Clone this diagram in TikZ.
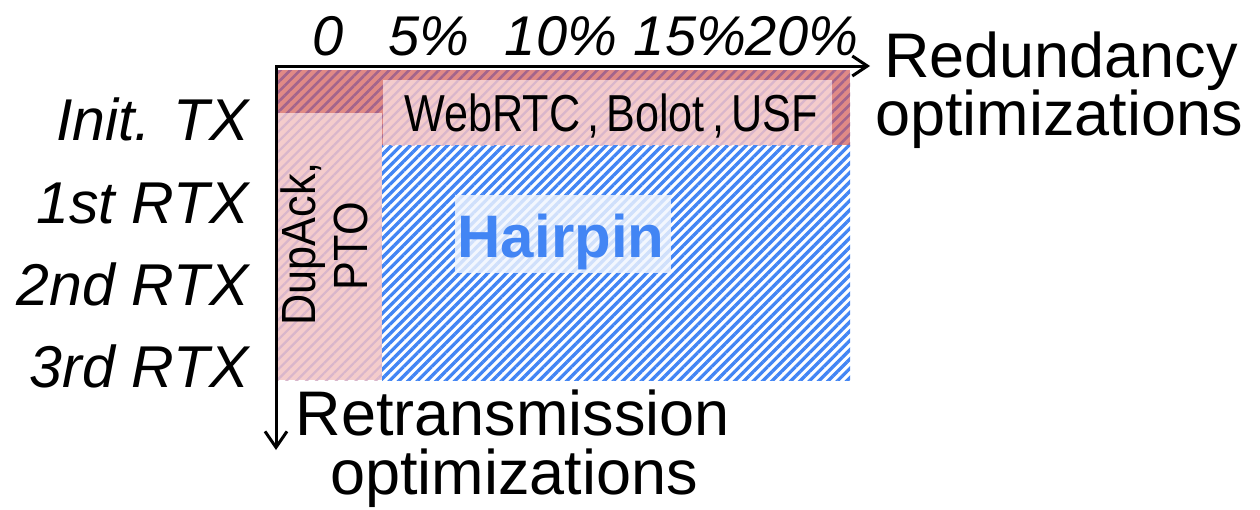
\documentclass[tikz,border=0pt]{standalone}
\usepackage{fontspec}
\setmainfont{Liberation Sans}
\newfontfamily\narrowsans[FakeStretch=0.83,WordSpace=0.6]{Liberation Sans}
\newfontfamily\dupsans[FakeStretch=0.9]{Liberation Sans}
\usetikzlibrary{patterns.meta,arrows.meta}
\definecolor{hpblue}{HTML}{4285F4}
\definecolor{darkband}{HTML}{E08A86}
\definecolor{darkhatch}{HTML}{A3648C}
\definecolor{pinkfill}{HTML}{F4CCCC}
\definecolor{pinkhatch}{HTML}{D9B6CB}
\tikzset{
  ticklab/.style={anchor=base, font=\fontsize{56}{56}\selectfont\itshape},
  rowlab/.style={anchor=base east, font=\fontsize{59}{59}\selectfont\itshape},
  biglab/.style={anchor=base, font=\fontsize{63}{63}\selectfont},
  axisline/.style={line width=3pt, {Straight Barb[length=16pt,width=22pt]}-{Straight Barb[length=15pt,width=20pt]}},
  bluehatch/.style={pattern={Lines[angle=45,distance=6.6pt,line width=3.3pt]}, pattern color=hpblue},
  darkhatchst/.style={pattern={Lines[angle=45,distance=7pt,line width=2.6pt]}, pattern color=darkhatch},
  pinkhatchst/.style={pattern={Lines[angle=45,distance=7pt,line width=2.2pt]}, pattern color=pinkhatch},
}
\begin{document}
\begin{tikzpicture}[x=1pt,y=-1pt]
\useasboundingbox (0,0) rectangle (1260,509);
\fill[white] (0,0) rectangle (1260,509);
% dark red band (initial transmission, redundancy)
\fill[darkband] (278,70) rectangle (850,145);
\fill[darkhatchst] (278,70) rectangle (850,145);
% pink column (retransmission optimizations)
\fill[pinkfill] (278,113) rectangle (382,380);
\fill[pinkhatchst] (278,113) rectangle (382,380);
% blue hairpin area
\fill[white] (382,145) rectangle (850,380);
\fill[bluehatch] (382,145) rectangle (850,380);
% WebRTC box
\fill[pinkfill] (383,80) rectangle (832,145);
\fill[pinkhatchst] (383,80) rectangle (832,145);
% Hairpin label box
\fill[white, opacity=0.8] (455,195) rectangle (671,273);
\fill[hpblue, opacity=0.06] (455,195) rectangle (671,273);
% axes
\coordinate (O) at (276,66);
\coordinate (xend) at (870,66);
\coordinate (yend) at (276,450);
\draw[axisline] (yend) -- (O) -- (xend);
% ticks
\node[ticklab] (t0) at (328,55) {0};
\node[ticklab] (t5) at (429,55) {5\%};
\node[ticklab] (t10) at (561,55) {10\%};
\node[ticklab] (t15) at (690,55) {15\%};
\node[ticklab] (t20) at (802,55) {20\%};
% rows
\node[rowlab] (r0) at (252,140) {Init. TX};
\node[rowlab] (r1) at (252,223) {1st RTX};
\node[rowlab] (r2) at (252,305) {2nd RTX};
\node[rowlab] (r3) at (252,387) {3rd RTX};
% axis titles
\node[biglab] (red1) at (1061,77) {Redundancy};
\node[biglab] (red2) at (1059,135) {optimizations};
\node[biglab] (ret1) at (513,435) {Retransmission};
\node[biglab] (ret2) at (514,494) {optimizations};
% region labels
\node[anchor=base, font=\fontsize{52}{52}\selectfont\narrowsans] (web) at (611,131) {WebRTC , Bolot , USF};
\node[anchor=base, rotate=90, font=\fontsize{48}{48}\selectfont\dupsans] (dup1) at (315,244) {DupAck,};
\node[anchor=base, rotate=90, font=\fontsize{48}{48}\selectfont\dupsans] (dup2) at (367,246) {PTO};
\node[anchor=base, text=hpblue, font=\fontsize{60}{60}\selectfont\bfseries] (hairpin) at (561,257) {Hairpin};
\end{tikzpicture}
\end{document}
